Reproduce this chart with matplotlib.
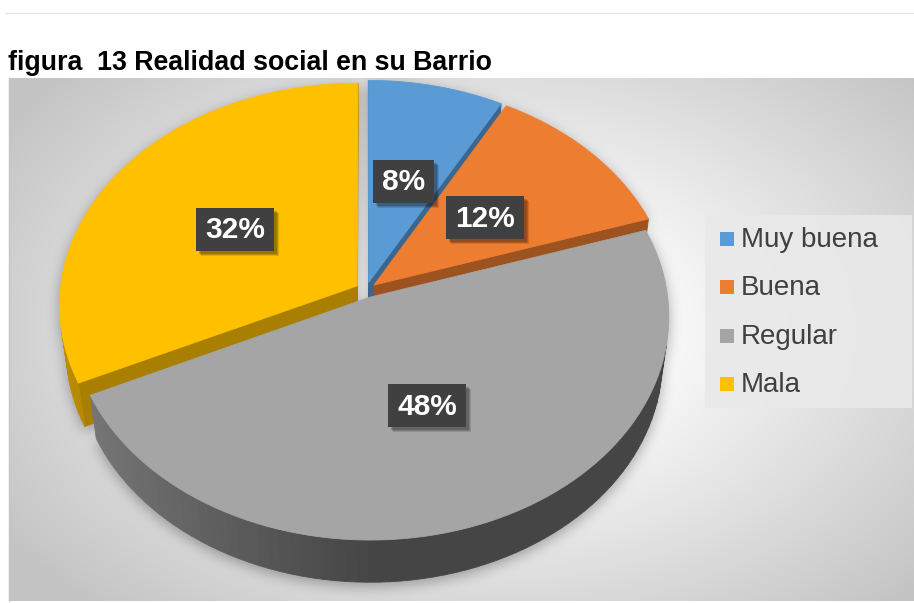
import numpy as np
import matplotlib
matplotlib.use('Agg')
import matplotlib.pyplot as plt
from matplotlib.patches import Polygon, Rectangle
from matplotlib.path import Path
from matplotlib.colors import to_rgb

# data
categories = ['Muy buena', 'Buena', 'Regular', 'Mala']
values = [8, 12, 48, 32]
colors = ['#5B9BD5', '#ED7D31', '#A5A5A5', '#FFC000']
title = 'figura  13 Realidad social en su Barrio'

plt.rcParams['font.family'] = ['Liberation Sans', 'DejaVu Sans']

W, H = 914, 603
fig = plt.figure(figsize=(W / 100, H / 100), dpi=100)
ax = fig.add_axes([0, 0, 1, 1])
ax.set_xlim(0, W)
ax.set_ylim(H, 0)
ax.axis('off')

# 3d pie camera settings
CX, CY = 366, 290
A = 297
D = 7.8
PHI = np.radians(48)
THICK = 0.225
EXPLODE = 0.035
cam = np.array([0, -D * np.cos(PHI), D * np.sin(PHI)])


def project(X, Y, Z):
    X, Y, Z = np.asarray(X, float), np.asarray(Y, float), np.asarray(Z, float)
    v = Y * np.sin(PHI) + Z * np.cos(PHI)
    w = D + Y * np.cos(PHI) - Z * np.sin(PHI)
    return CX + A * D * X / w, CY - A * D * v / w


def visible(point, normal):
    return np.dot(cam - np.asarray(point), np.asarray(normal)) > 0


fracs = np.array(values, float) / sum(values)
ends = np.cumsum(fracs) * 2 * np.pi
starts = ends - fracs * 2 * np.pi
mids = (starts + ends) / 2

# build the faces of every slice (far slices first)
faces = []      # (xy, color)
silhouettes = []
label_pos = []
for i in range(len(values)):
    s, t, m = starts[i], ends[i], mids[i]
    ox, oy = EXPLODE * np.sin(m), EXPLODE * np.cos(m)
    base = np.array(to_rgb(colors[i]))
    n = max(int(np.degrees(t - s) / 2), 4)
    th = np.linspace(s, t, n + 1)
    rx, ry = ox + np.sin(th), oy + np.cos(th)
    slice_faces = []
    # radial faces
    for ang, sign in [(s, -1), (t, 1)]:
        normal = sign * np.array([np.cos(ang), -np.sin(ang), 0])
        p = [ox + 0.5 * np.sin(ang), oy + 0.5 * np.cos(ang), -THICK / 2]
        if visible(p, normal):
            X = [ox, ox + np.sin(ang), ox + np.sin(ang), ox]
            Y = [oy, oy + np.cos(ang), oy + np.cos(ang), oy]
            Z = [0, 0, -THICK, -THICK]
            slice_faces.append((np.column_stack(project(X, Y, Z)), base * 0.66))
    # outer side
    for j in range(n):
        a = (th[j] + th[j + 1]) / 2
        p = [ox + np.sin(a), oy + np.cos(a), -THICK / 2]
        if visible(p, [np.sin(a), np.cos(a), 0]):
            X = [rx[j], rx[j + 1], rx[j + 1], rx[j]]
            Y = [ry[j], ry[j + 1], ry[j + 1], ry[j]]
            Z = [0, 0, -THICK, -THICK]
            k = 0.42 + 0.32 * np.clip(-np.sin(a), 0, 1)
            slice_faces.append((np.column_stack(project(X, Y, Z)), base * k))
    # top
    X = np.concatenate([[ox], rx])
    Y = np.concatenate([[oy], ry])
    top = np.column_stack(project(X, Y, np.zeros_like(X)))
    bot = np.column_stack(project(X, Y, np.full_like(X, -THICK)))
    slice_faces.append((top, base))
    faces.append((np.cos(m), slice_faces))
    silhouettes += [top, bot]
    label_pos.append(project(ox + 0.5 * np.sin(m), oy + 0.5 * np.cos(m), 0))

# background: radial gradient + soft pie shadow
x0, x1, y0, y1 = 9, 914, 78, 601
gx, gy = np.meshgrid(np.arange(x0, x1) + 0.5, np.arange(y0, y1) + 0.5)
tt = np.sqrt(((gx - 490) / 500) ** 2 + ((gy - 330) / 330) ** 2)
bg = 0.99 - 0.22 * np.clip((tt - 0.3) / 0.85, 0, 1)

pts = np.column_stack([gx.ravel(), gy.ravel() - 4])
mask = np.zeros(gx.size)
for poly in silhouettes:
    mask = np.maximum(mask, Path(poly).contains_points(pts))
mask = mask.reshape(gx.shape)


def box_blur(img, r, axis):
    pad = [(0, 0), (0, 0)]
    pad[axis] = (r + 1, r)
    c = np.cumsum(np.pad(img, pad, mode='edge'), axis=axis)
    if axis == 0:
        return (c[2 * r + 1:] - c[:-2 * r - 1]) / (2 * r + 1)
    return (c[:, 2 * r + 1:] - c[:, :-2 * r - 1]) / (2 * r + 1)


blur = mask
for _ in range(3):
    blur = box_blur(blur, 6, 0)
    blur = box_blur(blur, 6, 1)
bg = bg * (1 - 0.32 * blur)
ax.imshow(np.dstack([bg, bg, bg]), extent=(x0, x1, y1, y0), zorder=0,
          interpolation='bilinear', aspect='auto')
ax.plot([x0, x0], [y0, y1], color='#c4c4c4', lw=1, zorder=1)
ax.plot([5, W], [13, 13], color='#e4e4e4', lw=1, zorder=1)

# slices
for _, slice_faces in sorted(faces, key=lambda f: -f[0]):
    for xy, c in slice_faces:
        c = tuple(np.clip(c, 0, 1))
        ax.add_patch(Polygon(xy, closed=True, fc=c, ec=c, lw=0.6, zorder=2))

# data labels
fig.canvas.draw()
renderer = fig.canvas.get_renderer()
for (lx, ly), v in zip(label_pos, values):
    ly += 1
    txt = ax.text(lx, ly + 1, f'{v}%', color='white', fontsize=21.5,
                  fontweight='bold', ha='center', va='center', zorder=6)
    bw = txt.get_window_extent(renderer).width + 18
    bh = 43
    for off, al in [(5, 0.12), (4, 0.15), (3, 0.18)]:
        ax.add_patch(Rectangle((lx - bw / 2 + off, ly - bh / 2 + off), bw, bh,
                               fc='black', ec='none', alpha=al, zorder=4))
    ax.add_patch(Rectangle((lx - bw / 2, ly - bh / 2), bw, bh,
                           fc='#404040', ec='none', zorder=5))

# legend
ax.add_patch(Rectangle((705, 215), 207, 193, fc='#e9e9e9', ec='none',
                       alpha=0.9, zorder=2))
for k, (cat, col) in enumerate(zip(categories, colors)):
    yc = 239 + k * 48.3
    ax.add_patch(Rectangle((720, yc - 7), 14, 14, fc=col, ec='none', zorder=3))
    ax.text(741, yc + 1, cat, fontsize=20, color='#404040', va='center',
            ha='left', zorder=3)

# title
ax.text(8, 70, title, fontsize=19.3, fontweight='bold', color='black',
        va='baseline', ha='left')

fig.savefig('out.png', dpi=100, facecolor='white')
